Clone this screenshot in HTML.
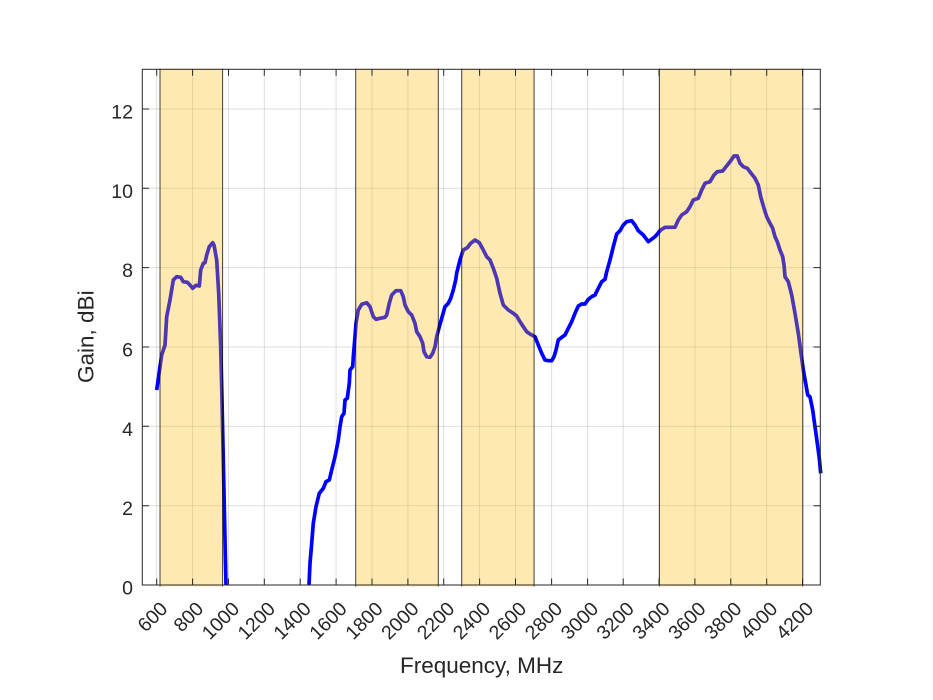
<!DOCTYPE html>
<html><head><meta charset="utf-8"><style>
html,body{margin:0;padding:0;background:#fff;}
svg{display:block;}
text{font-family:"Liberation Sans",Arial,sans-serif;fill:#262626;}
</style></head><body>
<svg width="933" height="700" viewBox="0 0 933 700" xmlns="http://www.w3.org/2000/svg">
<rect width="933" height="700" fill="#fff"/>
<!-- grid -->
<g stroke="#000" stroke-opacity="0.13" stroke-width="1">
<line x1="156.7" y1="69.3" x2="156.7" y2="585"/>
<line x1="192.6" y1="69.3" x2="192.6" y2="585"/>
<line x1="228.5" y1="69.3" x2="228.5" y2="585"/>
<line x1="264.3" y1="69.3" x2="264.3" y2="585"/>
<line x1="300.2" y1="69.3" x2="300.2" y2="585"/>
<line x1="336.1" y1="69.3" x2="336.1" y2="585"/>
<line x1="372" y1="69.3" x2="372" y2="585"/>
<line x1="407.9" y1="69.3" x2="407.9" y2="585"/>
<line x1="443.7" y1="69.3" x2="443.7" y2="585"/>
<line x1="479.6" y1="69.3" x2="479.6" y2="585"/>
<line x1="515.5" y1="69.3" x2="515.5" y2="585"/>
<line x1="551.6" y1="69.3" x2="551.6" y2="585"/>
<line x1="587.6" y1="69.3" x2="587.6" y2="585"/>
<line x1="623.2" y1="69.3" x2="623.2" y2="585"/>
<line x1="659" y1="69.3" x2="659" y2="585"/>
<line x1="694.9" y1="69.3" x2="694.9" y2="585"/>
<line x1="730.8" y1="69.3" x2="730.8" y2="585"/>
<line x1="766.7" y1="69.3" x2="766.7" y2="585"/>
<line x1="802.5" y1="69.3" x2="802.5" y2="585"/>
<line x1="142.3" y1="505.7" x2="820.3" y2="505.7"/>
<line x1="142.3" y1="426.3" x2="820.3" y2="426.3"/>
<line x1="142.3" y1="347" x2="820.3" y2="347"/>
<line x1="142.3" y1="267.6" x2="820.3" y2="267.6"/>
<line x1="142.3" y1="188.3" x2="820.3" y2="188.3"/>
<line x1="142.3" y1="109" x2="820.3" y2="109"/>
</g>
<!-- data line -->
<g fill="none" stroke="#0000ff" stroke-width="3.7" stroke-linejoin="round" stroke-linecap="butt">
<polyline points="156.7,390 160,366.7 161.7,355 165,345 166.7,316.7 170,300 173.3,280 176.7,276.7 180.7,277.3 183.3,281.7 187.3,282.3 190,285 192.7,288.3 196,285.3 199.3,286 200.7,270 203.3,263.3 205,262.7 206.7,255 209.3,246.7 212.7,242.7 214,245 216.7,260 218.7,293.3 220.7,346.7 222,400 223.5,470 225,540 226,585"/>
<polyline points="309,585 310,563.3 311.7,543.3 313.3,523.3 316,506.7 319.3,493.3 323.3,488.3 326,481.7 329.3,480 331.7,470 335,456.7 338.3,440 340,426.7 341.7,416.7 344,413.3 345,400 347.3,398.3 349.3,383.3 350,370 352.7,366.7 353.3,356.7 355,336.7 356,323.3 358.3,310 361.7,304.3 366.7,302.7 370,306.7 373.3,316.7 376,319.3 380,318.3 385,317.3 386.7,315 389.3,303.3 391.7,295 396,290.7 400.7,290.7 403.3,296.7 405,305 408.3,311.7 411.7,315 415,323.3 416.7,331.7 420,336.7 422.7,343.3 424,351.7 426.7,356.7 430,357.3 432.7,353.3 435,346.7 436.7,336.7 439.3,326.7 441.7,318.3 445,306.7 448.3,303.3 450.7,298.3 453.3,290 455.7,280 456.7,273 460,260 463.3,250 467.3,247.7 470.7,243.3 475,240 479.3,242.7 483.3,250 486.7,256.7 490,260 493.3,268.3 496.7,278.3 500,293.3 503.3,305 508.3,310 513.3,313.3 516.7,316 520,321.7 523.3,326.7 526.7,331.7 530,334 535,336.7 538.3,345 541.7,353.3 545,360 548.3,360.7 551.7,360.7 554,356.7 556,350 558.3,340 561.7,337.3 565,335 568.3,328.3 571.7,321.7 575,313.3 578.3,306 581.7,304 585,304 588.3,299.3 591.7,296.7 595,295 598.3,288.3 601.7,281.7 605,279.3 606.7,271.7 610,260 613.3,246.7 616.7,234 620,230.7 623.3,225 626.7,221.7 631.7,220.7 635,225 638.3,230.7 643.3,235 648.3,241.7 655,236.7 660.7,230 665,227.3 670,227.3 675,227.3 678.3,220 681.7,215 686.7,211.7 690,206.7 693.3,200 698.3,198.3 701.7,190 705,183.3 710,181.7 714,175 717.3,171.7 722.7,171 726,166.7 730,161.7 734,156 737.3,156 740,163.3 743.3,166.7 747.3,168.3 750.7,172.7 755,178.3 758.3,185 760.7,196.7 764,208.3 766.7,216.7 770,223.3 772.7,228.3 775,236.7 777.3,241.7 780,250 782.7,256.7 784,265 785,276.7 788.3,281.7 791.7,295 795,313.3 798.3,333.3 801,353.3 803.3,370 805.7,383.3 807.7,395 810,396.7 812.7,410 815,426.7 817.3,443.3 819.3,458.3 820.7,473.3"/>
</g>
<!-- bands -->
<g fill="rgb(255,182,0)" fill-opacity="0.3" stroke="none">
<rect x="160" y="68.5" width="62.6" height="518"/>
<rect x="355.7" y="68.5" width="82.6" height="518"/>
<rect x="461.7" y="68.5" width="72.4" height="518"/>
<rect x="659.4" y="68.5" width="143.4" height="518"/>
</g>
<g stroke="#000" stroke-opacity="0.75" stroke-width="1">
<path d="M160,68.5V586.5M222.6,68.5V586.5M355.7,68.5V586.5M438.3,68.5V586.5M461.7,68.5V586.5M534.1,68.5V586.5M659.4,68.5V586.5M802.8,68.5V586.5"/>
</g>
<!-- axes box -->
<g stroke="#262626" stroke-width="1" fill="none">
<rect x="142.3" y="69.3" width="678" height="515.7"/>
</g>
<!-- ticks -->
<g stroke="#262626" stroke-width="1">
<path d="M156.7,585v-6.5M192.6,585v-6.5M228.5,585v-6.5M264.3,585v-6.5M300.2,585v-6.5M336.1,585v-6.5M372,585v-6.5M407.9,585v-6.5M443.7,585v-6.5M479.6,585v-6.5M515.5,585v-6.5M551.6,585v-6.5M587.6,585v-6.5M623.2,585v-6.5M659,585v-6.5M694.9,585v-6.5M730.8,585v-6.5M766.7,585v-6.5M802.5,585v-6.5"/>
<path d="M156.7,69.3v6.5M192.6,69.3v6.5M228.5,69.3v6.5M264.3,69.3v6.5M300.2,69.3v6.5M336.1,69.3v6.5M372,69.3v6.5M407.9,69.3v6.5M443.7,69.3v6.5M479.6,69.3v6.5M515.5,69.3v6.5M551.6,69.3v6.5M587.6,69.3v6.5M623.2,69.3v6.5M659,69.3v6.5M694.9,69.3v6.5M730.8,69.3v6.5M766.7,69.3v6.5M802.5,69.3v6.5"/>
<path d="M142.3,585h6.8M142.3,505.7h6.8M142.3,426.3h6.8M142.3,347h6.8M142.3,267.6h6.8M142.3,188.3h6.8M142.3,109h6.8"/>
<path d="M820.3,585h-6.8M820.3,505.7h-6.8M820.3,426.3h-6.8M820.3,347h-6.8M820.3,267.6h-6.8M820.3,188.3h-6.8M820.3,109h-6.8"/>
</g>
<!-- y tick labels -->
<g font-size="19.5" text-anchor="end">
<text x="133" y="594.5">0</text>
<text x="133" y="515.2">2</text>
<text x="133" y="435.8">4</text>
<text x="133" y="356.5">6</text>
<text x="133" y="277.1">8</text>
<text x="133" y="197.8">10</text>
<text x="133" y="118.5">12</text>
</g>
<!-- x tick labels -->
<g font-size="19.5" text-anchor="end">
<text transform="translate(168.7,610) rotate(-45)">600</text>
<text transform="translate(204.6,610) rotate(-45)">800</text>
<text transform="translate(240.5,610) rotate(-45)">1000</text>
<text transform="translate(276.3,610) rotate(-45)">1200</text>
<text transform="translate(312.2,610) rotate(-45)">1400</text>
<text transform="translate(348.1,610) rotate(-45)">1600</text>
<text transform="translate(384,610) rotate(-45)">1800</text>
<text transform="translate(419.9,610) rotate(-45)">2000</text>
<text transform="translate(455.7,610) rotate(-45)">2200</text>
<text transform="translate(491.6,610) rotate(-45)">2400</text>
<text transform="translate(527.5,610) rotate(-45)">2600</text>
<text transform="translate(563.6,610) rotate(-45)">2800</text>
<text transform="translate(599.6,610) rotate(-45)">3000</text>
<text transform="translate(635.2,610) rotate(-45)">3200</text>
<text transform="translate(671,610) rotate(-45)">3400</text>
<text transform="translate(706.9,610) rotate(-45)">3600</text>
<text transform="translate(742.8,610) rotate(-45)">3800</text>
<text transform="translate(778.7,610) rotate(-45)">4000</text>
<text transform="translate(814.5,610) rotate(-45)">4200</text>
</g>
<!-- axis labels -->
<text x="481.7" y="673" font-size="22.5" text-anchor="middle">Frequency, MHz</text>
<text transform="translate(93.5,336.7) rotate(-90)" font-size="22.5" text-anchor="middle">Gain, dBi</text>
</svg>
</body></html>
